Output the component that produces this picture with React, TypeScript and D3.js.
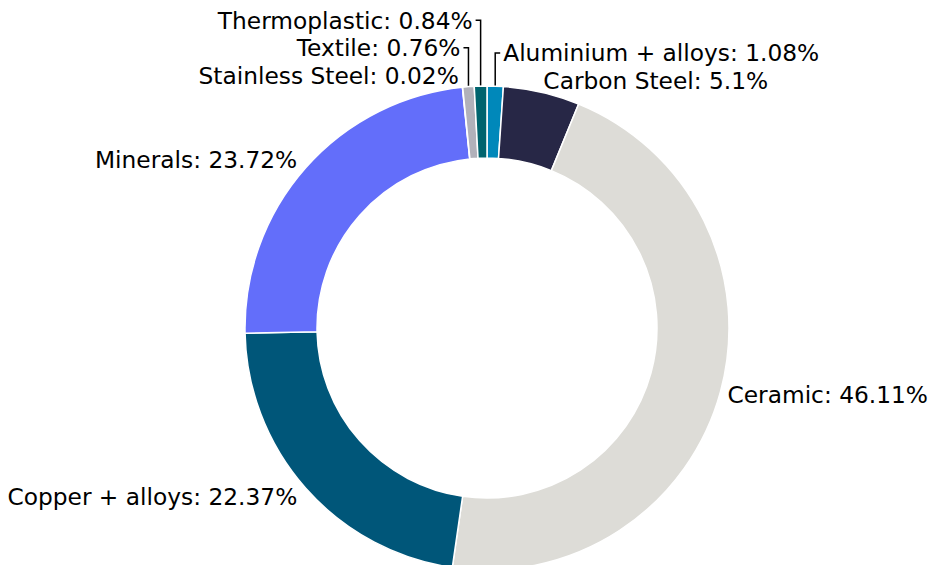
import { useEffect, useRef } from "react";
import * as d3 from "d3";

const categories = [
  "Aluminium + alloys",
  "Carbon Steel",
  "Ceramic",
  "Copper + alloys",
  "Minerals",
  "Stainless Steel",
  "Textile",
  "Thermoplastic",
];
const shares = [1.08, 5.1, 46.11, 22.37, 23.72, 0.02, 0.76, 0.84];
const colors = [
  "#0088ba",
  "#272746",
  "#dddcd7",
  "#005679",
  "#636efa",
  "#8a8a95",
  "#b1b1ba",
  "#00646e",
];

type Slice = { name: string; value: number; color: string };

export default function App() {
  const svgRef = useRef<SVGSVGElement>(null);

  const dims = {
    width: 928,
    height: 565,
    cx: 487,
    cy: 328,
    outer: 242,
    inner: 170,
    fontSize: 23.3,
    lineH: 27.5,
  };

  useEffect(() => {
    const svg = d3.select(svgRef.current);
    svg.selectAll("*").remove();

    const data: Slice[] = categories.map((c, i) => ({
      name: c,
      value: shares[i],
      color: colors[i],
    }));

    const pie = d3
      .pie<Slice>()
      .sort(null)
      .value((d) => d.value);
    const arcs = pie(data);

    const arc = d3
      .arc<d3.PieArcDatum<Slice>>()
      .innerRadius(dims.inner)
      .outerRadius(dims.outer);

    // natural label positions
    const labels = arcs.map((a) => {
      const mid = (a.startAngle + a.endAngle) / 2;
      const s = Math.sin(mid);
      const c = Math.cos(mid);
      return {
        text: `${a.data.name}: ${a.data.value}%`,
        mid,
        right: s >= 0,
        x: dims.cx + s * dims.outer * 1.03 + (s >= 0 ? 0 : -3),
        y: dims.cy - c * dims.outer * 1.05,
        edgeX: dims.cx + s * dims.outer,
        edgeY: dims.cy - c * dims.outer,
        moved: false,
      };
    });

    // push overlapping labels upward, side by side
    [true, false].forEach((side) => {
      const group = labels
        .filter((l) => l.right === side)
        .sort((a, b) => b.y - a.y);
      for (let i = 1; i < group.length; i++) {
        const prev = group[i - 1];
        if (prev.y - group[i].y < dims.lineH) {
          group[i].y = prev.y - dims.lineH;
          group[i].moved = true;
        }
      }
    });

    const g = svg.append("g");

    // leader lines for moved labels
    labels
      .filter((l) => l.moved)
      .forEach((l) => {
        const dir = l.right ? 1 : -1;
        g.append("path")
          .attr(
            "d",
            `M${l.edgeX},${l.edgeY}V${l.y}H${l.edgeX + dir * 5}`
          )
          .attr("fill", "none")
          .attr("stroke", "black")
          .attr("stroke-width", 1.5);
        l.x = l.edgeX + dir * 8;
      });

    g.append("g")
      .attr("transform", `translate(${dims.cx},${dims.cy})`)
      .selectAll("path")
      .data(arcs)
      .enter()
      .append("path")
      .attr("d", arc)
      .attr("fill", (d) => d.data.color)
      .attr("stroke", "white")
      .attr("stroke-width", 1.5)
      .attr("stroke-linejoin", "round");

    g.append("g")
      .selectAll("text")
      .data(labels)
      .enter()
      .append("text")
      .attr("x", (d) => d.x)
      .attr("y", (d) => d.y)
      .attr("text-anchor", (d) => (d.right ? "start" : "end"))
      .attr("dominant-baseline", "central")
      .attr("font-family", "DejaVu Sans")
      .attr("font-size", dims.fontSize)
      .attr("fill", "black")
      .text((d) => d.text);
  }, []);

  return (
    <svg
      ref={svgRef}
      width={dims.width}
      height={dims.height}
      style={{ position: "absolute", left: 0, top: 0, background: "white" }}
    ></svg>
  );
}
